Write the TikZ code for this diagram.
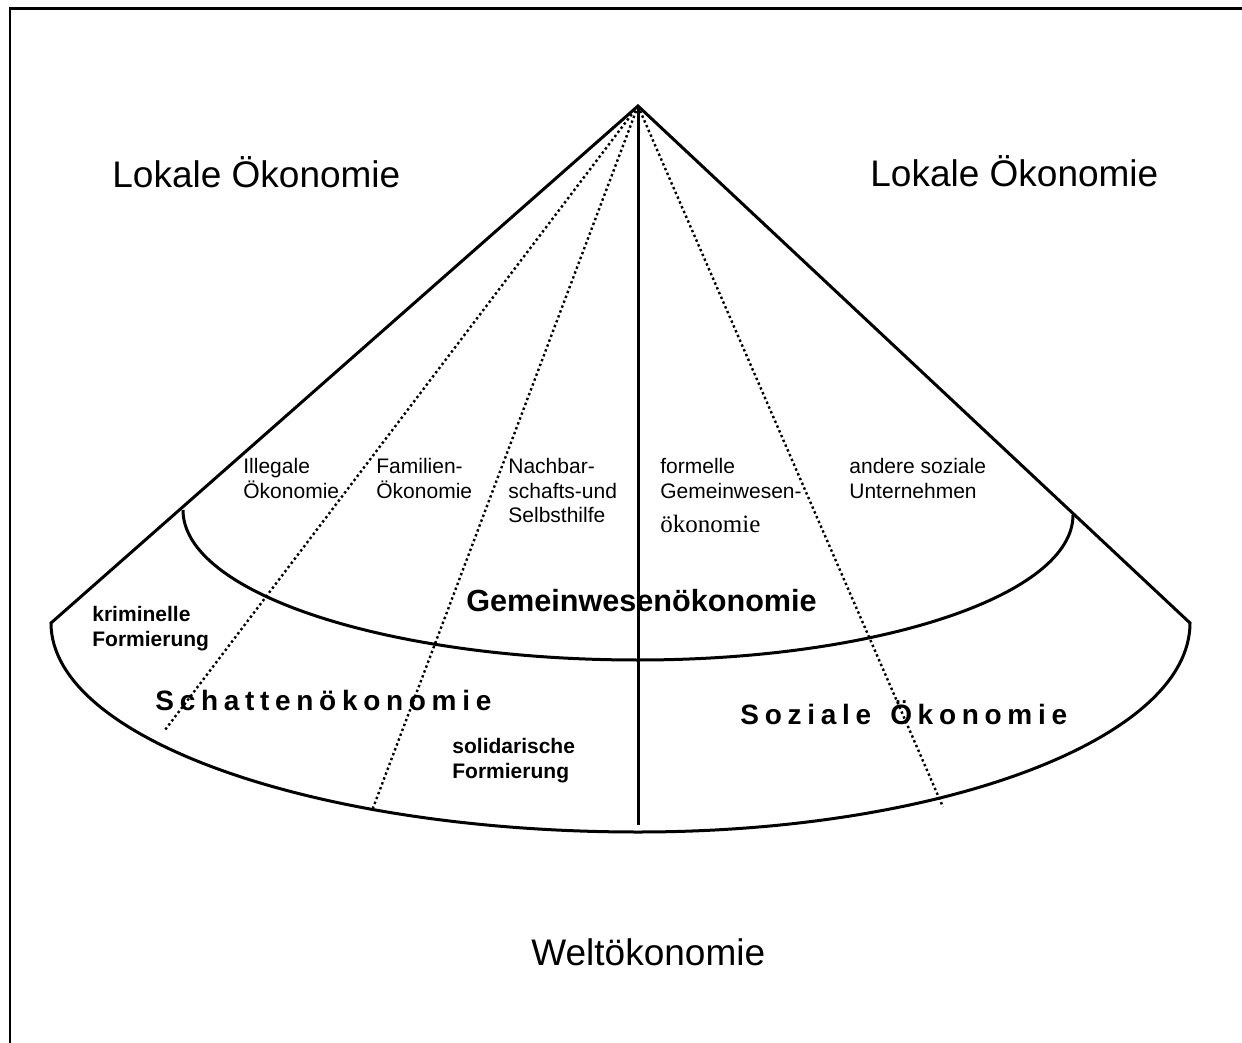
\documentclass[tikz,border=0pt]{standalone}
\usepackage{fontspec}
\setmainfont{Liberation Sans}
\newfontfamily\timesfont{Liberation Serif}
\newcommand\ltrsp{\kern2.85pt}
\begin{document}
\begin{tikzpicture}[x=0.5pt,y=-0.5pt,
  outline/.style={line width=1.5pt, line join=miter},
  frameline/.style={line width=1.3pt},
  dotline/.style={line width=1.2pt, dash pattern=on 1.2pt off 1.4pt},
  bigtext/.style={font=\fontsize{18.5}{22}\selectfont, inner sep=0pt, anchor=base west},
  smalltext/.style={font=\fontsize{10.5}{12.25}\selectfont, inner sep=0pt, anchor=north west, align=left},
  smallbold/.style={font=\fontsize{10.5}{12.25}\selectfont\bfseries, inner sep=0pt, anchor=north west, align=left},
  sertext/.style={font=\timesfont\fontsize{12.5}{15}\selectfont, inner sep=0pt, anchor=base west},
  midbold/.style={font=\fontsize{15.3}{18}\selectfont\bfseries, inner sep=0pt, anchor=base west},
  spacedbold/.style={font=\fontsize{14}{17}\selectfont\bfseries, inner sep=0pt, anchor=base west}
]
\useasboundingbox (0,0) rectangle (1242,1043);
\fill[white] (0,0) rectangle (1242,1043);

% frame (top and left edges visible)
\coordinate (fbl) at (10,1060);
\coordinate (ftl) at (10,8.5);
\coordinate (ftr) at (1260,8.5);
\draw[frameline] (fbl) -- (ftl) -- (ftr);

% key points
\coordinate (apex) at (638,106);
\coordinate (lc) at (51,623);
\coordinate (ilc) at (183,510);
\coordinate (vbot) at (638,825);
\coordinate (d1) at (165,730);
\coordinate (d2) at (373,808);
\coordinate (d3) at (943,807);

% outer cone with lower arc
\draw[outline] (apex) -- (lc)
  arc[start angle=180, end angle=270, x radius=293.5pt, y radius=104.5pt]
  arc[start angle=270, end angle=360, x radius=276pt, y radius=104.5pt]
  -- cycle;

% inner arc
\draw[outline] (ilc)
  arc[start angle=180, end angle=270, x radius=227.5pt, y radius=75pt]
  arc[start angle=270, end angle=360, x radius=217.5pt, y radius=72.5pt];

% vertical divider
\draw[outline] (apex) -- (vbot);

% dotted dividers
\draw[dotline] (apex) -- (d1);
\draw[dotline] (apex) -- (d2);
\draw[dotline] (apex) -- (d3);

% texts
\node[bigtext] (lok1) at (112,188) {Lokale Ökonomie};
\node[bigtext] (lok2) at (870,187) {Lokale Ökonomie};
\node[bigtext] (welt) at (531,965) {Weltökonomie};

\node[smalltext] (illeg) at (243,458) {Illegale\\Ökonomie};
\node[smalltext] (famil) at (376,458) {Familien-\\Ökonomie};
\node[smalltext] (nachb) at (508,458) {Nachbar-\\schafts-und\\Selbsthilfe};
\node[smalltext] (forme) at (660,458) {formelle\\Gemeinwesen-};
\node[sertext] (oekon) at (660,532) {ökonomie};
\node[smalltext] (ander) at (849,458) {andere soziale\\Unternehmen};

\node[smallbold] (krim) at (92,606) {kriminelle\\Formierung};
\node[smallbold] (solid) at (452,738) {solidarische\\Formierung};

\node[midbold] (gemein) at (466,611) {Gemeinwesenökonomie};
\node[spacedbold] (schat) at (155,710) {S\ltrsp c\ltrsp h\ltrsp a\ltrsp t\ltrsp t\ltrsp e\ltrsp n\ltrsp ö\ltrsp k\ltrsp o\ltrsp n\ltrsp o\ltrsp m\ltrsp i\ltrsp e};
\node[spacedbold] (sozial) at (740,724) {S\ltrsp o\ltrsp z\ltrsp i\ltrsp a\ltrsp l\ltrsp e\ltrsp{} \ltrsp Ö\ltrsp k\ltrsp o\ltrsp n\ltrsp o\ltrsp m\ltrsp i\ltrsp e};
\end{tikzpicture}
\end{document}
